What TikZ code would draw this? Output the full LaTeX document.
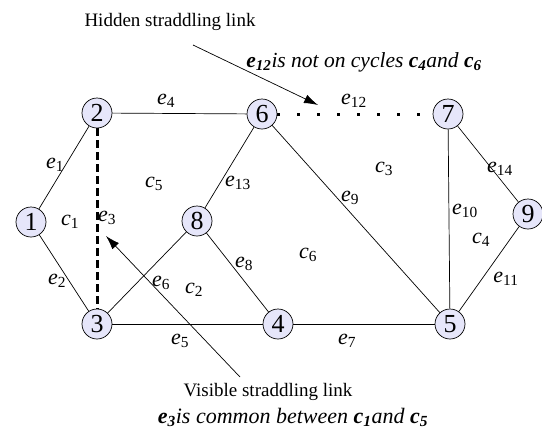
\documentclass[tikz,border=0pt]{standalone}
\usepackage{fontspec}
\setmainfont{Liberation Serif}
\usetikzlibrary{arrows.meta}
\definecolor{nodefill}{RGB}{230,230,250}
\newcommand{\elab}[2]{\textit{#1}\textsubscript{#2}}
\newcommand{\blab}[2]{\textbf{\textit{#1}}\textsubscript{\textbf{#2}}}
\begin{document}
\begin{tikzpicture}[x=1pt, y=-1pt, line width=0.7pt,
  main node/.style={circle,fill=nodefill,draw,minimum size=30pt,inner sep=0pt,font=\fontsize{26}{26}\selectfont},
  edge label/.style={inner sep=0pt,font=\fontsize{22}{22}\selectfont},
  note/.style={inner sep=0pt,font=\fontsize{19}{20}\selectfont},
  cycle note/.style={inner sep=0pt,font=\fontsize{22}{24}\selectfont\itshape},
  pointer/.style={-{Latex[length=14pt,width=9pt]}}]
\useasboundingbox (0,0) rectangle (542,432);
\node[main node] (v1) at (31,222) {1};
\node[main node] (v2) at (97,113) {2};
\node[main node] (v3) at (97,324) {3};
\node[main node] (v4) at (278,324) {4};
\node[main node] (v5) at (450,324) {5};
\node[main node] (v6) at (262,114) {6};
\node[main node] (v7) at (448,114) {7};
\node[main node] (v8) at (197,221) {8};
\node[main node] (v9) at (528,214) {9};
\draw  (v1) edge (v2);
\draw  (v1) edge (v3);
\draw  (v2) edge (v6);
\draw  (v3) edge (v4);
\draw  (v3) edge (v8);
\draw  (v4) edge (v5);
\draw  (v4) edge (v8);
\draw  (v6) edge (v5);
\draw  (v7) edge (v5);
\draw  (v9) edge (v5);
\draw  (v6) edge (v8);
\draw  (v7) edge (v9);
\draw[line width=3pt, dash pattern=on 8pt off 4pt] (v2) -- (v3);
\draw[line width=3pt, dash pattern=on 3pt off 17pt] (v6) -- (v7);
% edge labels
\node[edge label] (l1) at (55,165) {\elab{e}{1}};
\node[edge label] (l2) at (57,281) {\elab{e}{2}};
\node[edge label] (l3) at (107,218) {\elab{e}{3}};
\node[edge label] (l4) at (166,101) {\elab{e}{4}};
\node[edge label] (l5) at (180,341) {\elab{e}{5}};
\node[edge label] (l6) at (161,283) {\elab{e}{6}};
\node[edge label] (l7) at (347,341) {\elab{e}{7}};
\node[edge label] (l8) at (244,264) {\elab{e}{8}};
\node[edge label] (l9) at (350,198) {\elab{e}{9}};
\node[edge label] (l10) at (465,211) {\elab{e}{10}};
\node[edge label] (l11) at (506,279) {\elab{e}{11}};
\node[edge label] (l12) at (354,101) {\elab{e}{12}};
\node[edge label] (l13) at (238,183) {\elab{e}{13}};
\node[edge label] (l14) at (500,169) {\elab{e}{14}};
% cycle labels
\node[edge label] (k1) at (70,222) {\elab{c}{1}};
\node[edge label] (k2) at (194,290) {\elab{c}{2}};
\node[edge label] (k3) at (384,169) {\elab{c}{3}};
\node[edge label] (k4) at (481,240) {\elab{c}{4}};
\node[edge label] (k5) at (154,184) {\elab{c}{5}};
\node[edge label] (k6) at (308,255) {\elab{c}{6}};
% notes
\node[note] (hidden) at (170,22) {Hidden straddling link};
\node[cycle note,font=\fontsize{21.5}{24}\selectfont\itshape] (hidden note) at (364,62) {\blab{e}{12}is not on cycles \blab{c}{4}and \blab{c}{6}};
\node[note] (visible) at (268,392) {Visible straddling link};
\node[cycle note] (visible note) at (293,417) {\blab{e}{3}is common between \blab{c}{1}and \blab{c}{5}};
\coordinate (h0) at (193,45);
\coordinate (h1) at (318,105);
\coordinate (s0) at (240,377);
\coordinate (s1) at (106,236);
\draw[pointer] (h0) -- (h1);
\draw[pointer] (s0) -- (s1);
\end{tikzpicture}
\end{document}
